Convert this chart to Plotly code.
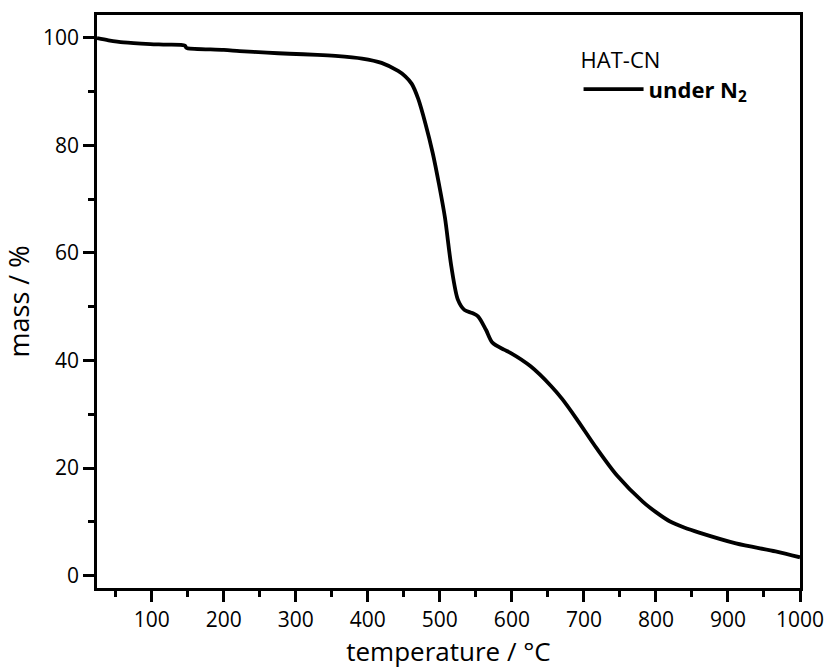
import plotly.graph_objects as go

temperature = [24, 40, 61, 98, 120, 146, 148, 150, 200, 222, 260, 291, 330, 355, 392, 419,
               442, 452, 461, 470, 480, 490, 499, 507, 516, 525, 534, 545, 553, 564, 573,
               589, 598, 626, 654, 670, 690, 718, 746, 782, 800, 819, 840, 860, 911, 966, 1000]
mass = [99.9, 99.5, 99.1, 98.8, 98.7, 98.5, 98.1, 98.0, 97.7, 97.5, 97.2, 97.0, 96.8, 96.6,
        96.1, 95.3, 93.8, 92.8, 91.4, 88.6, 84.0, 78.6, 72.6, 66.6, 57.4, 51.3, 49.4, 48.8,
        48.2, 45.7, 43.3, 42.0, 41.4, 38.9, 35.3, 32.8, 29.1, 23.6, 18.6, 13.7, 11.8, 10.1,
        8.9, 8.0, 6.0, 4.5, 3.4]

x_ticks = [100, 200, 300, 400, 500, 600, 700, 800, 900, 1000]
y_ticks = [0, 20, 40, 60, 80, 100]

FONT = "Open Sans"

fig = go.Figure()
fig.add_trace(go.Scatter(
    x=temperature, y=mass, mode="lines",
    line=dict(color="black", width=3.8, shape="spline", smoothing=0.8),
    name="<b>under N<sub>2</sub></b>",
    showlegend=True,
))

axis_common = dict(
    showgrid=False, zeroline=False, showline=True, linecolor="black", linewidth=2.5,
    mirror=True, ticks="outside", ticklen=11, tickwidth=2.5, tickcolor="black",
    tickfont=dict(family=FONT, size=21, color="black"),
    minor=dict(ticks="outside", ticklen=6, tickwidth=2.5, tickcolor="black"),
)

fig.update_xaxes(range=[24, 1000], tickvals=x_ticks, ticktext=[str(v) for v in x_ticks],
                 minor_dtick=50, minor_tick0=0,
                 title=dict(text="temperature / °C", font=dict(family=FONT, size=26, color="black"),
                            standoff=6),
                 **axis_common)
fig.update_yaxes(range=[-2.3, 104.2], tickvals=y_ticks, ticktext=[str(v) for v in y_ticks],
                 minor_dtick=10, minor_tick0=0,
                 title=dict(text="mass / %", font=dict(family=FONT, size=27, color="black"),
                            standoff=8),
                 **axis_common)

fig.update_layout(
    width=836, height=669,
    margin=dict(l=97, r=32, t=13, b=79),
    plot_bgcolor="white", paper_bgcolor="white",
    legend=dict(
        x=0.685, y=0.957, xanchor="left", yanchor="top",
        bgcolor="rgba(0,0,0,0)",
        title=dict(text="HAT-CN", font=dict(family=FONT, size=22, color="black")),
        font=dict(family=FONT, size=22, color="black"),
        itemwidth=60,
    ),
)

fig.write_html("out.html")
